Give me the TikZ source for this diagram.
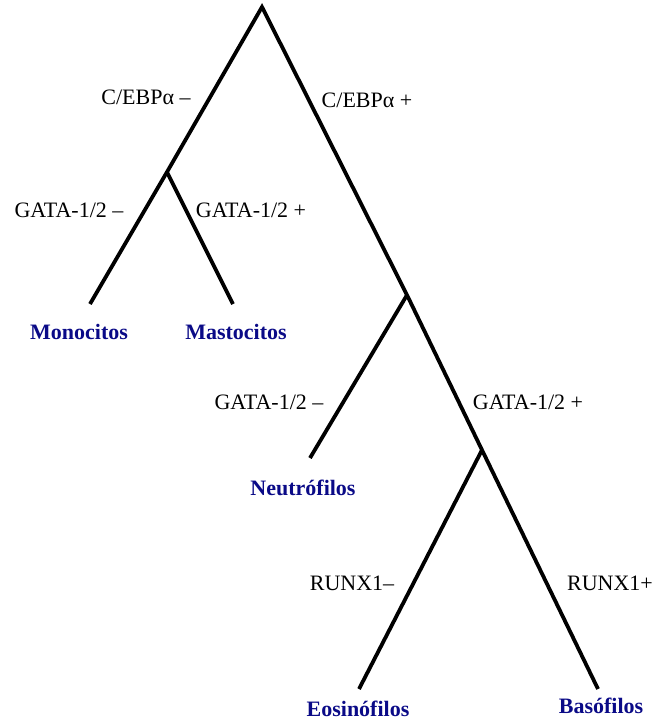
\documentclass[tikz,border=0pt]{standalone}
\usepackage{fontspec}
\setmainfont{Liberation Serif}
\definecolor{cellblue}{RGB}{10,10,135}
\begin{document}
\begin{tikzpicture}[x=1pt,y=-1pt,
  branch/.style={line width=3.8pt,line cap=butt},
  factor/.style={font=\fontsize{22}{26}\selectfont,inner sep=0pt},
  cell/.style={font=\fontsize{22}{26}\selectfont\bfseries,text=cellblue,inner sep=0pt}]
\useasboundingbox (0,0) rectangle (652,721);
% branch points and leaves
\coordinate (apex) at (262,7);
\coordinate (j1) at (167,172);
\coordinate (mono) at (90,304);
\coordinate (masto) at (233,304);
\coordinate (j2) at (407,295);
\coordinate (neutro) at (310,458);
\coordinate (j3) at (482,450);
\coordinate (eosi) at (359,689);
\coordinate (baso) at (598,689);
% branches
\draw[branch] (mono) -- (j1) -- (apex) -- (j2) -- (j3) -- (baso);
\draw[branch] (j1) -- (masto);
\draw[branch] (j2) -- (neutro);
\draw[branch] (j3) -- (eosi);
% factor labels
\node[factor] (f1) at (146,97) {C/EBPα –};
\node[factor] (f2) at (367,100) {C/EBPα +};
\node[factor] (f3) at (69,210) {GATA-1/2 –};
\node[factor] (f4) at (251,210) {GATA-1/2 +};
\node[factor] (f5) at (269,402) {GATA-1/2 –};
\node[factor] (f6) at (528,402) {GATA-1/2 +};
\node[factor] (f7) at (352,583) {RUNX1–};
\node[factor] (f8) at (610,583) {RUNX1+};
% cell labels
\node[cell] (c1) at (79,332) {Monocitos};
\node[cell] (c2) at (236,332) {Mastocitos};
\node[cell] (c3) at (303,488) {Neutrófilos};
\node[cell] (c4) at (358,709) {Eosinófilos};
\node[cell] (c5) at (601,706) {Basófilos};
\end{tikzpicture}
\end{document}
